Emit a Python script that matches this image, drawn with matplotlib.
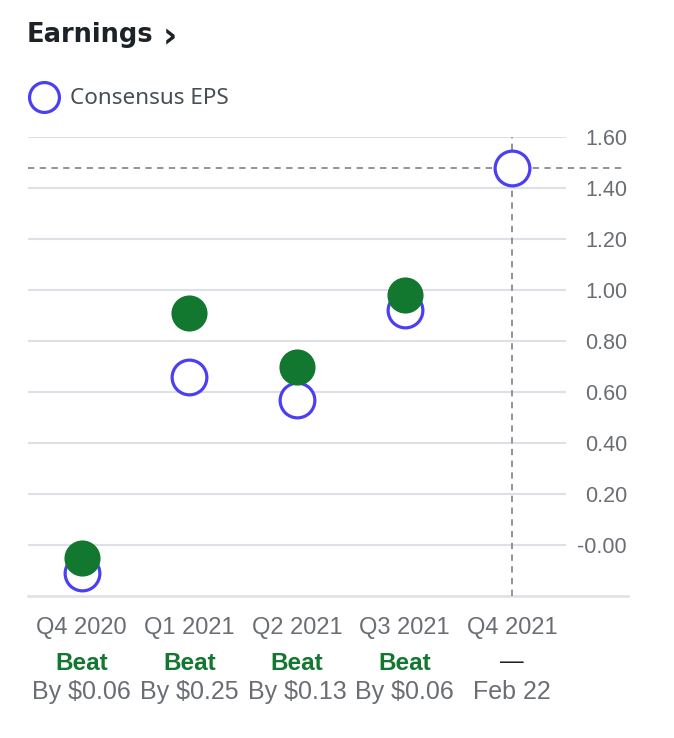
import matplotlib
matplotlib.use("Agg")
import matplotlib.pyplot as plt
from matplotlib.transforms import blended_transform_factory

# data
quarters = ["Q4 2020", "Q1 2021", "Q2 2021", "Q3 2021", "Q4 2021"]
consensus = [-0.11, 0.66, 0.57, 0.92, 1.48]
actual = [-0.05, 0.91, 0.70, 0.98]
results = ["Beat", "Beat", "Beat", "Beat", "\u2014"]
details = ["By $0.06", "By $0.25", "By $0.13", "By $0.06", "Feb 22"]
ytick_vals = [0.0, 0.2, 0.4, 0.6, 0.8, 1.0, 1.2, 1.4, 1.6]
ytick_labels = ["-0.00", "0.20", "0.40", "0.60", "0.80", "1.00", "1.20", "1.40", "1.60"]

blue = "#4b3ff4"
green = "#12772f"
grey_text = "#6a6e74"
grid_col = "#dde0e6"
dash_col = "#8a8a8a"

plt.rcParams['font.family'] = ['Liberation Sans', 'DejaVu Sans']

W, H = 674, 738
fig = plt.figure(figsize=(W / 100, H / 100), dpi=100)
ax = fig.add_axes([28 / W, (H - 596) / H, (566 - 28) / W, (596 - 137) / H])

x = list(range(len(quarters)))

# gridlines
for v in ytick_vals:
    ax.axhline(v, color=grid_col, lw=1.5, zorder=1)
ax.axhline(-0.2, xmin=0, xmax=(628 - 28) / (566 - 28), color=grid_col, lw=1.8,
           clip_on=False, zorder=1)

# upcoming marker guide lines
ax.axvline(x[-1], color=dash_col, lw=1.3, dashes=(3.5, 3), zorder=2)
ax.axhline(consensus[-1], xmin=0, xmax=(625 - 28) / (566 - 28), color=dash_col,
           lw=1.3, dashes=(3.5, 3), clip_on=False, zorder=2)

ax.plot(x, consensus, 'o', ms=25, mfc='white', mec=blue, mew=2.3, ls='none', zorder=3)
ax.plot(x[:len(actual)], actual, 'o', ms=26, mfc=green, mec=green, mew=0, ls='none', zorder=4)

ax.set_xlim(-0.5, 4.5)
ax.set_ylim(-0.2, 1.6)
for s in ax.spines.values():
    s.set_visible(False)

ax.yaxis.tick_right()
ax.set_yticks(ytick_vals)
ax.set_yticklabels(ytick_labels, ha='right')
ax.tick_params(axis='y', length=0, pad=44, labelsize=15.5, labelcolor=grey_text)

ax.set_xticks(x)
ax.set_xticklabels(quarters)
ax.tick_params(axis='x', length=0, pad=15, labelsize=17, labelcolor=grey_text)

tr = blended_transform_factory(ax.transData, ax.transAxes)
h_ax = 596 - 137
for i in x:
    if results[i] == "Beat":
        ax.text(i, (596 - 664) / h_ax, results[i], transform=tr, ha='center', va='center',
                fontsize=17.5, fontweight='bold', color=green)
    else:
        ax.text(i, (596 - 662) / h_ax, results[i], transform=tr, ha='center', va='center',
                fontsize=17, color="#1d2228")
    ax.text(i, (596 - 692) / h_ax, details[i], transform=tr, ha='center', va='center',
            fontsize=18, color=grey_text)

# header
fig.text(27 / W, 1 - 35 / H, "Earnings", fontsize=18.5, fontweight='bold',
         color="#1d2228", va='center', family=['DejaVu Sans'])
fig.text(163 / W, 1 - 37 / H, "\u203a", fontsize=25, fontweight='bold',
         color="#1d2228", va='center', family=['DejaVu Sans'])

# legend
leg_ax_x, leg_ax_y = 44 / W, 1 - 97 / H
fig.lines.append(plt.Line2D([leg_ax_x], [leg_ax_y], marker='o', ms=21.5, mfc='white',
                            mec=blue, mew=2.3, transform=fig.transFigure))
fig.text(70 / W, 1 - 99 / H, "Consensus EPS", fontsize=16.2, color="#464e56",
         va='center', family=['Noto Sans', 'DejaVu Sans'])

fig.savefig("out.png", dpi=100)
